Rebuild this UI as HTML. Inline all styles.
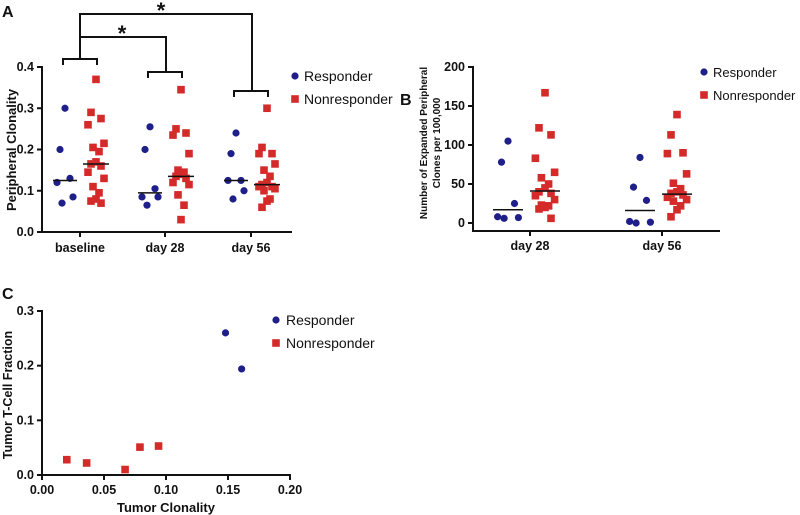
<!DOCTYPE html>
<html><head><meta charset="utf-8"><style>
html,body{margin:0;padding:0;background:#fff;}
svg{display:block;font-family:"Liberation Sans",Arial,sans-serif;}
</style></head><body>
<svg id="c" width="800" height="515" viewBox="0 0 800 515"></svg>
<script>
const aCategories=["baseline","day 28","day 56"];
const aResponder=[[0.30,0.20,0.13,0.12,0.085,0.07],[0.255,0.20,0.105,0.085,0.085,0.065],[0.24,0.19,0.125,0.125,0.10,0.08]];
const aNonresponder=[[0.37,0.29,0.275,0.26,0.215,0.205,0.195,0.17,0.165,0.16,0.145,0.13,0.11,0.095,0.08,0.075,0.07],[0.345,0.25,0.24,0.235,0.19,0.15,0.145,0.14,0.135,0.13,0.12,0.115,0.09,0.065,0.03],[0.30,0.205,0.19,0.19,0.165,0.15,0.135,0.12,0.115,0.11,0.11,0.105,0.10,0.08,0.075,0.06]];
const aRespMedian=[0.125,0.095,0.125];
const aNonMedian=[0.165,0.135,0.115];
const aTicks=["0.0","0.1","0.2","0.3","0.4"];
const bCategories=["day 28","day 56"];
const bResponder=[[105,78,25,8,7,6],[84,46,29,2,1,0]];
const bNonresponder=[[167,122,113,83,65,58,50,45,40,38,35,30,23,22,20,18,6],[139,113,90,89,63,51,44,40,38,36,33,30,28,22,17,8]];
const bRespMedian=[17,16];
const bNonMedian=[41,37];
const bTicks=["0","50","100","150","200"];
const cRespX=[0.148,0.161];
const cRespY=[0.26,0.194];
const cNonX=[0.02,0.036,0.067,0.079,0.094];
const cNonY=[0.028,0.022,0.01,0.051,0.053];
const cXTicks=["0.00","0.05","0.10","0.15","0.20"];
const cYTicks=["0.0","0.1","0.2","0.3"];

const NS="http://www.w3.org/2000/svg";
const svg=document.getElementById('c');
const BLUE="#1f1f8a",RED="#d42a2a";
function mk(tag,attrs,name,parent){const e=document.createElementNS(NS,tag);for(const k in attrs)e.setAttribute(k,attrs[k]);


(parent||svg).appendChild(e);return e;}
function txt(x,y,s,name,opts){const t=mk('text',Object.assign({x:x,y:y,'font-size':12.5,'font-weight':'bold',fill:'#111'},opts||{}),name);t.textContent=s;return t;}
function circ(x,y,name){mk('circle',{cx:x,cy:y,r:3.6,fill:BLUE},name);}
function sq(x,y,name){mk('rect',{x:x-3.8,y:y-3.8,width:7.6,height:7.6,fill:RED},name);}
function line(x1,y1,x2,y2,name,w){mk('line',{x1:x1,y1:y1,x2:x2,y2:y2,stroke:'#111','stroke-width':w||2},name);}
function jit(i,n){const cols=[0,-5,5,-8,8,-3,3];return cols[i%cols.length];}

// Panel A
(function(){
 const x0=42,x1=292,yA=v=>232-v/0.4*165;
 const cx=[80,165,251];
 line(x0,66,x0,233,'a-y-axis');line(x0-1,232,x1,232,'a-x-axis');
 aTicks.forEach((t,i)=>{const y=yA(i*0.1);line(x0-5,y,x0,y,'a-y-tick');txt(x0-8,y+4,t,'a-y-tick-label',{'text-anchor':'end'});});
 aCategories.forEach((c,i)=>{line(cx[i],232,cx[i],237,'a-x-tick');txt(cx[i],252,c,'a-x-tick-label',{'text-anchor':'middle'});});
 txt(0,0,'Peripheral Clonality','a-y-axis-title',{transform:'translate(16,150) rotate(-90)','text-anchor':'middle','font-size':13});
 aCategories.forEach((c,i)=>{
  const rx=cx[i]-15,nx=cx[i]+16;
  aResponder[i].forEach((v,j)=>circ(rx+jit(j),yA(v),'a-responder-point'));
  aNonresponder[i].forEach((v,j)=>sq(nx+jit(j),yA(v),'a-nonresponder-point'));
  line(rx-12,yA(aRespMedian[i]),rx+12,yA(aRespMedian[i]),'a-responder-median',1.5);
  line(nx-13,yA(aNonMedian[i]),nx+13,yA(aNonMedian[i]),'a-nonresponder-median',1.5);
 });
 const by=[59,72,91];
 cx.forEach((c,i)=>{mk('polyline',{points:`${c-17},${by[i]+6} ${c-17},${by[i]} ${c+17},${by[i]} ${c+17},${by[i]+6}`,fill:'none',stroke:'#111','stroke-width':2},'a-group-bracket');});
 mk('polyline',{points:`80,59 80,37 166,37 166,72`,fill:'none',stroke:'#111','stroke-width':2},'a-sig-bracket-day28');
 mk('polyline',{points:`80,37 80,14 252,14 252,91`,fill:'none',stroke:'#111','stroke-width':2},'a-sig-bracket-day56');
 txt(122,41,'*','a-sig-star',{'text-anchor':'middle','font-size':22});
 txt(161,18,'*','a-sig-star',{'text-anchor':'middle','font-size':22});
 txt(2,17,'A','a-panel-label',{'font-size':16});
 circ(295,76,'a-legend-responder-marker');txt(304,81,'Responder','a-legend-responder',{'font-weight':'normal','font-size':14});
 sq(295,99,'a-legend-nonresponder-marker');txt(304,104,'Nonresponder','a-legend-nonresponder',{'font-weight':'normal','font-size':14});
})();

// Panel B
(function(){
 const x0=473,x1=720,yB=v=>223-v/200*156;
 const cx=[530,662];
 line(x0,66,x0,231,'b-y-axis');line(x0-1,231,x1,231,'b-x-axis');
 bTicks.forEach((t,i)=>{const y=yB(i*50);line(x0-5,y,x0,y,'b-y-tick');txt(x0-8,y+4,t,'b-y-tick-label',{'text-anchor':'end'});});
 bCategories.forEach((c,i)=>{line(cx[i],231,cx[i],236,'b-x-tick');txt(cx[i],250,c,'b-x-tick-label',{'text-anchor':'middle'});});
 txt(0,0,'Number of Expanded Peripheral','b-y-axis-title',{transform:'translate(427,143) rotate(-90)','text-anchor':'middle','font-size':10});
 txt(0,0,'Clones per 100,000','b-y-axis-title-line2',{transform:'translate(440,143) rotate(-90)','text-anchor':'middle','font-size':10});
 bCategories.forEach((c,i)=>{
  const rx=cx[i]-22,nx=cx[i]+15;
  bResponder[i].forEach((v,j)=>circ(rx+jit(j)*1.3,yB(v),'b-responder-point'));
  bNonresponder[i].forEach((v,j)=>sq(nx+jit(j)*1.2,yB(v),'b-nonresponder-point'));
  line(rx-15,yB(bRespMedian[i]),rx+15,yB(bRespMedian[i]),'b-responder-median',1.5);
  line(nx-15,yB(bNonMedian[i]),nx+15,yB(bNonMedian[i]),'b-nonresponder-median',1.5);
 });
 txt(400,105,'B','b-panel-label',{'font-size':16});
 circ(704,72,'b-legend-responder-marker');txt(713,77,'Responder','b-legend-responder',{'font-weight':'normal','font-size':13});
 sq(704,95,'b-legend-nonresponder-marker');txt(713,100,'Nonresponder','b-legend-nonresponder',{'font-weight':'normal','font-size':13});
})();

// Panel C
(function(){
 const x0=42,x1=290,y0=475,xC=v=>x0+v/0.2*(x1-x0),yC=v=>y0-v/0.3*164;
 line(x0,310,x0,476,'c-y-axis');line(x0-1,475,x1+1,475,'c-x-axis');
 cYTicks.forEach((t,i)=>{const y=yC(i*0.1);line(x0-5,y,x0,y,'c-y-tick');txt(x0-8,y+4,t,'c-y-tick-label',{'text-anchor':'end'});});
 cXTicks.forEach((t,i)=>{const x=xC(i*0.05);line(x,475,x,480,'c-x-tick');txt(x,494,t,'c-x-tick-label',{'text-anchor':'middle'});});
 txt(0,0,'Tumor T-Cell Fraction','c-y-axis-title',{transform:'translate(12,395) rotate(-90)','text-anchor':'middle'});
 txt(166,512,'Tumor Clonality','c-x-axis-title',{'text-anchor':'middle','font-size':13});
 cRespX.forEach((v,i)=>circ(xC(v),yC(cRespY[i]),'c-responder-point'));
 cNonX.forEach((v,i)=>sq(xC(v),yC(cNonY[i]),'c-nonresponder-point'));
 txt(2,299,'C','c-panel-label',{'font-size':16});
 circ(276,320,'c-legend-responder-marker');txt(286,325,'Responder','c-legend-responder',{'font-weight':'normal','font-size':14});
 sq(276,343,'c-legend-nonresponder-marker');txt(286,348,'Nonresponder','c-legend-nonresponder',{'font-weight':'normal','font-size':14});
})();
</script>
</body></html>
